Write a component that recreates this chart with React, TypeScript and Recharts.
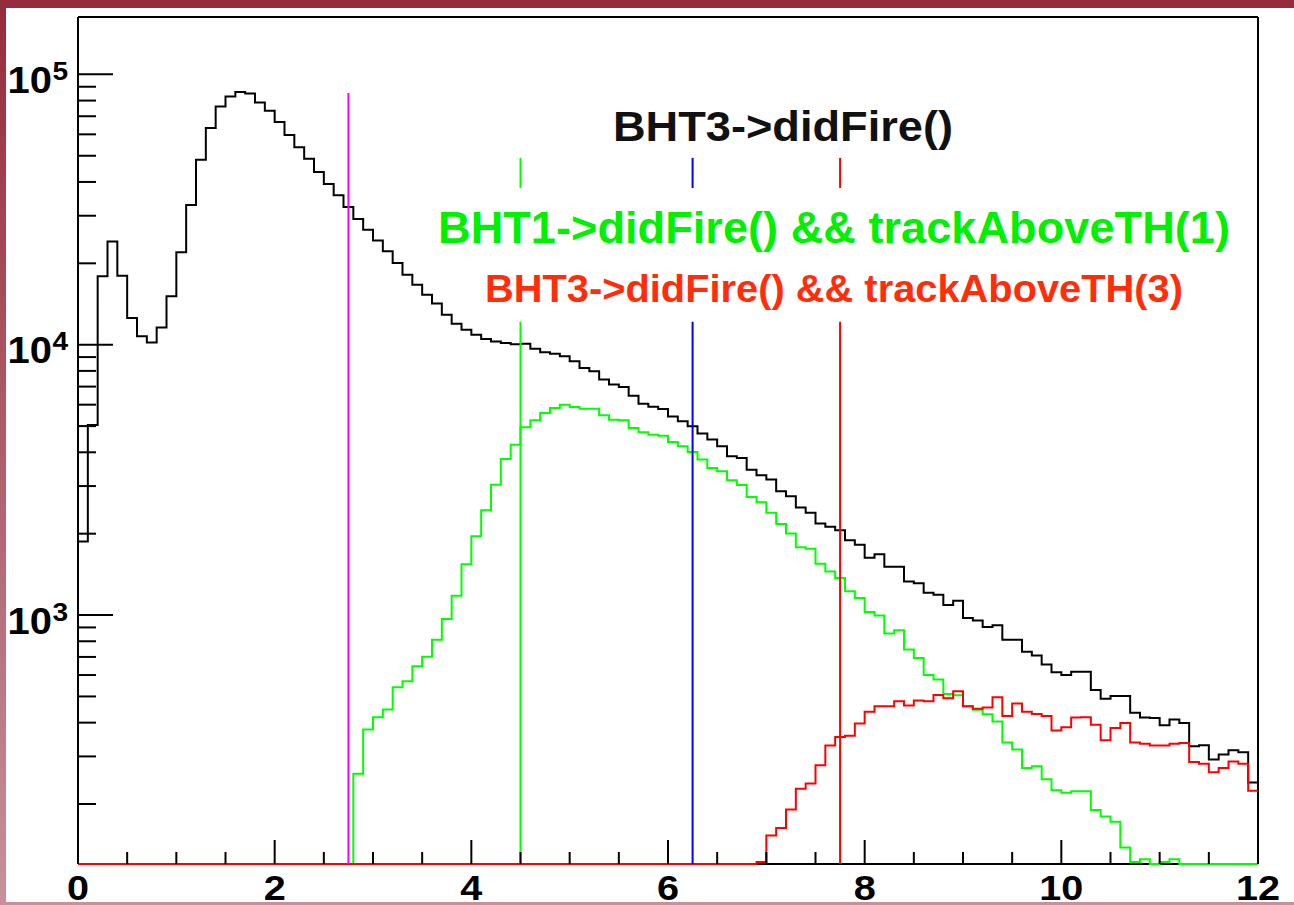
import React from 'react';
import { ComposedChart, Line, XAxis, YAxis, ReferenceLine } from 'recharts';

// ---- histogram binning (bins of 0.1 from 0 to 12) ----
const BIN_WIDTH = 0.1;
const X_MIN = 0;
const X_MAX = 12;
const Y_MIN = 120;
const Y_MAX = 163000;

// BHT3->didFire()
const blackCounts = [
  1870, 5050, 17900, 24100, 18000, 12560, 10740, 10200, 11580, 15100,
  22000, 32900, 48300, 63300, 76000, 82800, 86000, 85000, 78700, 73300,
  66600, 59700, 53800, 48700, 43500, 39300, 35700, 32300, 29200, 26600,
  24300, 22150, 20050, 18150, 16670, 15300, 14200, 12910, 11960, 11350,
  10890, 10500, 10280, 10150, 10040, 10090, 9665, 9370, 9260, 9060,
  8680, 8200, 7970, 7430, 7120, 6980, 6480, 6050, 5890, 5780,
  5430, 5210, 4990, 4690, 4460, 4210, 3870, 3810, 3450, 3290,
  3170, 2870, 2750, 2500, 2390, 2180, 2120, 2060, 1890, 1820,
  1630, 1680, 1510, 1510, 1330, 1310, 1210, 1190, 1090, 1130,
  975, 955, 903, 916, 811, 811, 731, 708, 657, 614,
  600, 617, 617, 528, 490, 502, 502, 435, 418, 416,
  391, 411, 399, 327, 330, 292, 305, 316, 311, 240,
];

// BHT1->didFire() && trackAboveTH(1)
const greenCounts = [
  0, 0, 0, 0, 0, 0, 0, 0, 0, 0,
  0, 0, 0, 0, 0, 0, 0, 0, 0, 0,
  0, 0, 0, 0, 0, 0, 0, 0, 259, 377,
  419, 447, 541, 569, 647, 701, 811, 967, 1180, 1543,
  1955, 2440, 3037, 3780, 4270, 4946, 5250, 5590, 5835, 6000,
  5885, 5800, 5790, 5480, 5280, 5250, 4920, 4742, 4647, 4609,
  4366, 4207, 4012, 3758, 3500, 3403, 3150, 3030, 2735, 2614,
  2388, 2174, 2001, 1782, 1758, 1547, 1449, 1370, 1224, 1157,
  1026, 997, 854, 879, 746, 693, 600, 578, 511, 505,
  460, 446, 430, 404, 338, 318, 272, 276, 247, 225,
  220, 223, 223, 190, 180, 172, 138, 122, 125, 0,
  122, 125, 0, 0, 0, 0, 0, 0, 0, 0,
];

// BHT3->didFire() && trackAboveTH(3)
const redCounts = [
  0, 0, 0, 0, 0, 0, 0, 0, 0, 0,
  0, 0, 0, 0, 0, 0, 0, 0, 0, 0,
  0, 0, 0, 0, 0, 0, 0, 0, 0, 0,
  0, 0, 0, 0, 0, 0, 0, 0, 0, 0,
  0, 0, 0, 0, 0, 0, 0, 0, 0, 0,
  0, 0, 0, 0, 0, 0, 0, 0, 0, 0,
  0, 0, 0, 0, 0, 0, 0, 0, 0, 122,
  153, 163, 191, 228, 238, 278, 329, 354, 358, 397,
  439, 460, 460, 480, 463, 483, 480, 506, 492, 523,
  460, 450, 455, 497, 423, 471, 439, 431, 423, 374,
  385, 418, 419, 393, 344, 382, 399, 338, 334, 329,
  329, 334, 336, 286, 282, 262, 272, 287, 282, 224,
];

const xTicks = [0, 0.5, 1, 1.5, 2, 2.5, 3, 3.5, 4, 4.5, 5, 5.5, 6, 6.5, 7, 7.5, 8, 8.5, 9, 9.5, 10, 10.5, 11, 11.5, 12];
const yTicks = [
  200, 300, 400, 500, 600, 700, 800, 900,
  1000, 2000, 3000, 4000, 5000, 6000, 7000, 8000, 9000,
  10000, 20000, 30000, 40000, 50000, 60000, 70000, 80000, 90000,
  100000,
];

// vertical threshold lines
const cutValues = [2.75, 4.5, 6.25, 7.75];
const cutColors = ['#ff00ff', '#00ff00', '#0000ff', '#ff0000'];
const cutTops = [85400, 49100, 49100, 49100];
const cutHasGap = [false, true, true, true];
const legendGapTop = 38000;
const legendGapBottom = 12160;

const titleText = 'BHT3->didFire()';
const legendTexts = ['BHT1->didFire() && trackAboveTH(1)', 'BHT3->didFire() && trackAboveTH(3)'];

const FONT = '"Liberation Sans", Arial, Helvetica, sans-serif';

// empty bins are drawn on the bottom of the frame (as ROOT does on a log axis)
const toPlot = (v: number) => (v > 0 ? v : Y_MIN);

const data = blackCounts.map((b, i) => ({
  x: Math.round(i * BIN_WIDTH * 10) / 10,
  black: toPlot(b),
  green: toPlot(greenCounts[i]),
  red: toPlot(redCounts[i]),
}));
data.push({
  x: X_MAX,
  black: toPlot(blackCounts[blackCounts.length - 1]),
  green: toPlot(greenCounts[greenCounts.length - 1]),
  red: toPlot(redCounts[redCounts.length - 1]),
});

const XTick = (props: any) => {
  const { x, y, payload } = props;
  const v = payload.value as number;
  const major = Math.abs(v / 2 - Math.round(v / 2)) < 1e-6;
  return (
    <g>
      <line x1={x} x2={x} y1={y} y2={y - (major ? 24 : 12)} stroke="#000" strokeWidth={2} />
      {major && (
        <text
          transform={`translate(${x},${y + 36}) scale(1.1,1)`}
          textAnchor="middle"
          fontFamily={FONT}
          fontWeight="bold"
          fontSize={36}
          fill="#000"
        >
          {v}
        </text>
      )}
    </g>
  );
};

const YTick = (props: any) => {
  const { x, y, payload } = props;
  const v = payload.value as number;
  const e = Math.log10(v);
  const major = Math.abs(e - Math.round(e)) < 1e-6;
  return (
    <g>
      <line x1={x} x2={x + (major ? 35 : 18)} y1={y} y2={y} stroke="#000" strokeWidth={2} />
      {major && (
        <g>
          <text
            transform={`translate(${x - 26},${y + 18.5}) scale(1.08,1)`}
            textAnchor="end"
            fontFamily={FONT}
            fontWeight="bold"
            fontSize={37}
            fill="#000"
          >
            10
          </text>
          <text
            transform={`translate(${x - 25.5},${y + 5.5}) scale(1.08,1)`}
            textAnchor="start"
            fontFamily={FONT}
            fontWeight="bold"
            fontSize={26}
            fill="#000"
          >
            {Math.round(e)}
          </text>
        </g>
      )}
    </g>
  );
};

const lineProps: any = { type: 'stepAfter', strokeWidth: 2, dot: false, activeDot: false, isAnimationActive: false, zIndex: 600 };

export default function App() {
  return (
    <div style={{ position: 'absolute', left: 0, top: 0, width: 1294, height: 905, background: '#fff', overflow: 'hidden' }}>
      <div style={{ position: 'absolute', left: 0, top: 0 }}>
        <ComposedChart
          width={1294}
          height={905}
          data={data}
          margin={{ top: 17, right: 36, bottom: 0, left: 0 }}
        >
          <XAxis
            dataKey="x"
            type="number"
            domain={[X_MIN, X_MAX]}
            ticks={xTicks}
            interval={0}
            tick={<XTick />}
            tickLine={false}
            tickSize={0}
            tickMargin={0}
            height={41}
            axisLine={{ stroke: '#000', strokeWidth: 2 }}
          />
          <YAxis
            type="number"
            scale="log"
            domain={[Y_MIN, Y_MAX]}
            ticks={yTicks}
            interval={0}
            tick={<YTick />}
            tickLine={false}
            tickSize={0}
            tickMargin={0}
            width={78}
            axisLine={{ stroke: '#000', strokeWidth: 2 }}
          />
          <ReferenceLine y={Y_MAX} stroke="#000" strokeWidth={2} ifOverflow="visible" />
          <ReferenceLine x={X_MAX} stroke="#000" strokeWidth={2} ifOverflow="visible" />
          <Line dataKey="black" stroke="#000" {...lineProps} />
          <Line dataKey="green" stroke="#00ff00" {...lineProps} />
          <Line dataKey="red" stroke="#ff0000" {...lineProps} />
          {cutValues.map((cx, i) =>
            cutHasGap[i] ? (
              <React.Fragment key={`cut${i}`}>
                <ReferenceLine
                  segment={[{ x: cx, y: cutTops[i] }, { x: cx, y: legendGapTop }]}
                  stroke={cutColors[i]}
                  strokeWidth={2}
                  ifOverflow="visible"
                  {...({ zIndex: 700 } as any)}
                />
                <ReferenceLine
                  segment={[{ x: cx, y: legendGapBottom }, { x: cx, y: Y_MIN }]}
                  stroke={cutColors[i]}
                  strokeWidth={2}
                  ifOverflow="visible"
                  {...({ zIndex: 700 } as any)}
                />
              </React.Fragment>
            ) : (
              <ReferenceLine
                key={`cut${i}`}
                segment={[{ x: cx, y: cutTops[i] }, { x: cx, y: Y_MIN }]}
                stroke={cutColors[i]}
                strokeWidth={2}
                ifOverflow="visible"
                {...({ zIndex: 700 } as any)}
              />
            )
          )}
        </ComposedChart>
      </div>
      <svg style={{ position: 'absolute', left: 0, top: 0, pointerEvents: 'none' }} width={1294} height={905}>
        <text x={783} y={141} textAnchor="middle" fontFamily={FONT} fontWeight="bold" fontSize={43} fill="#111" textLength={340} lengthAdjust="spacingAndGlyphs">
          {titleText}
        </text>
        <text x={834} y={243} textAnchor="middle" fontFamily={FONT} fontWeight="bold" fontSize={44} fill="#00f000" textLength={792} lengthAdjust="spacingAndGlyphs">
          {legendTexts[0]}
        </text>
        <text x={834} y={302} textAnchor="middle" fontFamily={FONT} fontWeight="bold" fontSize={38} fill="#ff2d0a" textLength={698} lengthAdjust="spacingAndGlyphs">
          {legendTexts[1]}
        </text>
      </svg>
      <div style={{ position: 'absolute', left: 0, top: 0, width: 1294, height: 8, background: '#952c3d' }} />
      <div style={{ position: 'absolute', left: 0, top: 0, width: 6, height: 905, background: 'linear-gradient(#952c3d, #c8909a)' }} />
      <div style={{ position: 'absolute', left: 0, top: 902, width: 1294, height: 3, background: '#c8909a' }} />
    </div>
  );
}
